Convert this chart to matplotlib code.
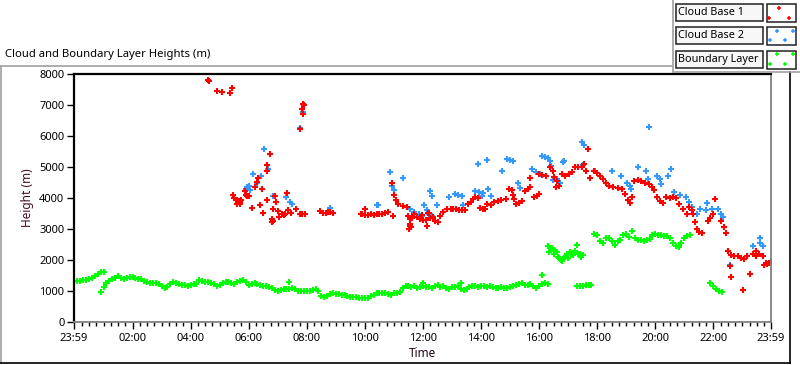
import numpy as np
import matplotlib.pyplot as plt
from matplotlib.lines import Line2D
from matplotlib.patches import Rectangle

plt.rcParams['font.family'] = ['Noto Sans', 'DejaVu Sans']

# ---- data (hours after 00:00, height in m) ----
# boundary layer: runs sampled at a fixed step
bl_start = [0.0, 0.9, 16.3, 17.3, 17.9, 21.9]
bl_step = [0.1, 0.1, 0.05, 0.1, 0.1, 0.1]
bl_run1 = [1330, 1330, 1320, 1340, 1350, 1380, 1420, 1470, 1560, 1600, 1620]
bl_run2 = [960, 1120, 1250, 1330, 1400, 1430, 1500, 1430, 1390, 1420,
           1460, 1450, 1430, 1400, 1390, 1330, 1300, 1260, 1260, 1250,
           1210, 1150, 1110, 1140, 1230, 1280, 1260, 1220, 1200, 1190,
           1160, 1180, 1210, 1230, 1340, 1310, 1290, 1280, 1260, 1210,
           1170, 1200, 1270, 1300, 1290, 1250, 1220, 1280, 1320, 1340,
           1300, 1200, 1230, 1270, 1210, 1180, 1160, 1150, 1130, 1100,
           1020, 1010, 1040, 1070, 1080, 1060, 1100, 1070, 1000, 985,
           990, 1010, 1000, 1030, 1050, 1000, 850, 820, 830, 900,
           930, 910, 890, 880, 870, 830, 820, 810, 800, 790,
           770, 760, 780, 850, 880, 930, 940, 920, 940, 900,
           880, 920, 950, 980, 1100, 1150, 1150, 1120, 1150, 1100,
           1130, 1160, 1130, 1120, 1100, 1150, 1180, 1130, 1150, 1100,
           1070, 1120, 1140, 1150, 1060, 1030, 1060, 1120, 1150, 1160,
           1130, 1150, 1170, 1140, 1150, 1120, 1100, 1110, 1120, 1090,
           1100, 1130, 1160, 1200, 1240, 1250, 1200, 1180, 1230, 1150,
           1100, 1150, 1230, 1250, 1240]
bl_run3 = [2450, 2250, 2350, 2400, 2200, 2300, 2250, 2100, 2050, 2000,
           1980, 2050, 2100, 2180, 2050, 2250, 2200, 2150, 2230, 2300,
           2480, 2200, 2180, 2100, 2150]
bl_run4 = [1150, 1160, 1150, 1180, 1200, 1180]
bl_run5 = [2850, 2800, 2600, 2550, 2720, 2700, 2600, 2500, 2600, 2650,
           2800, 2850, 2750, 2950, 2700, 2650, 2640, 2620, 2650, 2680,
           2800, 2850, 2820, 2800, 2780, 2790, 2700, 2550, 2450, 2430,
           2550, 2700, 2780, 2800]
bl_run6 = [1260, 1150, 1050, 1000, 960]
bl_runs = [bl_run1, bl_run2, bl_run3, bl_run4, bl_run5, bl_run6]
bl_extra_t = [16.1, 7.4, 12.0, 13.3]
bl_extra_h = [1530, 1280, 1250, 1260]

# cloud base 1
cb1_t = [4.60, 4.62, 4.90, 5.07, 5.35, 5.43,
         5.45, 5.50, 5.55, 5.60, 5.65, 5.70, 5.75, 5.60, 5.70,
         5.87, 5.90, 5.95, 6.00, 6.10, 6.22, 6.27, 6.33, 6.39, 6.45,
         6.50, 6.62, 6.62, 6.64, 6.73, 6.79, 6.80, 6.82, 6.85, 6.90,
         6.94, 7.02, 7.03, 7.15, 7.20, 7.25, 7.33, 7.35, 7.45, 7.63,
         7.77, 7.85, 7.94, 7.77, 7.82, 7.86, 7.88, 7.90,
         8.45, 8.55, 8.65, 8.72, 8.80, 8.90,
         9.85, 9.90, 10.0, 10.1, 10.2, 10.3, 10.4, 10.5, 10.6, 10.7,
         10.8, 10.0, 10.97, 10.92, 11.01, 11.07, 11.15, 11.30, 11.45,
         11.48, 11.55, 11.62, 11.55, 11.57, 11.53, 11.60,
         11.70, 11.80, 11.90, 11.95, 12.00, 12.10, 12.17, 12.22, 12.15,
         12.25, 12.35, 12.43, 12.50, 12.58, 12.70, 12.83,
         12.95, 13.05, 13.15, 13.25, 13.35, 13.45, 13.55, 13.65,
         13.72, 13.80, 13.88, 13.95, 14.05, 14.12, 14.22, 14.35,
         14.45, 14.58, 14.70, 14.85, 14.95, 15.05, 15.11, 15.13,
         15.20, 15.30, 15.42, 15.50, 15.60, 15.70, 15.69, 15.82,
         15.92, 16.00, 15.98, 16.10, 16.25, 16.38, 16.46, 16.52,
         16.60, 16.68, 16.58, 16.78, 16.90, 17.02, 17.14, 17.22,
         17.35, 17.48, 17.55, 17.62, 17.68, 17.75, 17.90, 18.00,
         18.10, 18.20, 18.30, 18.42, 18.55, 18.70, 18.85, 18.95,
         19.05, 19.12, 19.19, 19.27, 19.40, 19.52, 19.65, 19.78,
         19.88, 19.96, 20.05, 20.15, 20.25, 20.38, 20.50, 20.62,
         20.72, 20.82, 20.95, 21.08, 21.15, 21.25, 21.31, 21.35,
         21.42, 21.50, 21.60, 21.80, 21.90, 22.00, 22.05, 22.25,
         22.35, 22.45, 22.50, 22.60, 22.57, 22.61, 22.70, 22.85,
         22.95, 23.05, 23.15, 23.26, 23.02, 23.38, 23.48, 23.58,
         23.45, 23.70, 23.80, 23.75, 23.85, 23.92, 23.98, 22.50]
cb1_h = [7800, 7780, 7460, 7420, 7390, 7550,
         4100, 4000, 3950, 3920, 3900, 3880, 3950, 3800, 3800,
         4230, 4100, 4070, 4050, 3670, 4370, 4520, 4630, 3770, 4290,
         3510, 5060, 4880, 3930, 5410, 3310, 3210, 3250, 3640, 4070,
         3860, 3570, 3380, 3470, 3450, 3480, 4150, 3600, 3510, 3660,
         3470, 3480, 3470, 6230, 6880, 6720, 7045, 7000,
         3580, 3520, 3510, 3540, 3560, 3530,
         3480, 3470, 3460, 3460, 3470, 3460, 3470, 3480, 3500, 3530,
         3560, 3660, 3420, 4500, 4090, 3930, 3800, 3750, 3700,
         3410, 3310, 3350, 3100, 3150, 3000, 3050,
         3500, 3400, 3320, 3450, 3300, 3280, 3530, 3530, 3100,
         3360, 3380, 3250, 3240, 3420, 3550, 3660,
         3660, 3640, 3630, 3620, 3610, 3620, 3800, 3880,
         3960, 4020, 4000, 3690, 3660, 3640, 3800, 3790,
         3870, 3900, 3930, 3960, 4290, 4250, 4090, 3960,
         3800, 3850, 3910, 4230, 4280, 4340, 4660, 4020,
         4080, 4120, 4770, 4740, 4720, 5000, 4880, 4680,
         4550, 4390, 4340, 4770, 4720, 4780, 4830, 5000,
         4990, 5010, 5100, 4880, 5580, 4640, 4880, 4800,
         4700, 4600, 4500, 4390, 4350, 4320, 4290, 4120,
         3950, 3850, 4020, 4560, 4580, 4560, 4500, 4440,
         4340, 4260, 4020, 3900, 3850, 4020, 4000, 4030,
         4010, 3800, 3650, 3470, 3720, 3610, 3500, 3210,
         3000, 2900, 2880, 3250, 3350, 3470, 3960, 3250,
         3050, 2880, 2280, 2170, 1800, 1450, 2120, 2130,
         2070, 2020, 2120, 1560, 1020, 2200, 2120, 2180,
         2300, 2120, 1910, 1850, 1880, 1900, 1950, 2300]

# cloud base 2
cb2_t = [5.92, 5.95, 6.00, 6.03, 6.16, 6.27, 6.42, 6.53, 6.65, 6.85,
         7.30, 7.42, 7.48, 7.77, 7.86, 8.80, 10.41, 10.45, 10.86, 10.93,
         11.00, 11.32, 11.55, 11.70, 11.85, 11.97, 12.04, 12.14, 12.22,
         12.31, 12.24, 12.30, 12.47, 12.90, 13.10, 13.22, 13.34, 13.38,
         13.79, 13.92, 14.07, 13.88, 14.19, 14.02, 14.25, 14.33, 14.71,
         14.89, 14.98, 15.10, 15.28, 15.34, 15.75, 15.88, 16.03, 16.10,
         16.20, 16.31, 16.37, 16.40, 16.48, 16.60, 16.72, 16.81, 16.84,
         17.48, 17.55, 17.68, 17.51, 17.92, 18.50, 18.81, 19.04, 19.13,
         19.15, 19.40, 19.68, 19.75, 19.78, 20.05, 20.16, 20.18, 20.45,
         20.53, 20.65, 20.85, 21.05, 21.15, 21.28, 21.42, 21.55, 21.75,
         21.95, 21.77, 22.15, 22.25, 22.33, 22.57, 23.36, 23.60, 23.62,
         23.71]
cb2_h = [4300, 4350, 4400, 4250, 4790, 4490, 4700, 5580, 4950, 4050,
         4020, 3870, 3800, 6250, 6770, 3690, 3770, 3770, 4830, 4390,
         4250, 4630, 3640, 3550, 3500, 3420, 3770, 3600, 3500,
         3420, 4230, 4050, 3780, 4020, 4120, 4100, 4070, 3770,
         4230, 4200, 4160, 5100, 5240, 4050, 4290, 4050, 4860,
         5260, 5220, 5200, 4470, 4330, 4930, 4850, 4770, 5370,
         5330, 5280, 5200, 5040, 4580, 4600, 4500, 5170, 5180,
         5810, 5700, 5580, 5050, 4880, 4860, 4700, 4500, 4390,
         4290, 5010, 4880, 4610, 6290, 4720, 4610, 4450, 4720,
         4950, 4180, 4100, 4020, 3880, 3700, 3500, 3660, 3610,
         3630, 3850, 3660, 3500, 3390, 1850, 2440, 2700, 2560,
         2440]

x_ticks = [-1 / 60, 2, 4, 6, 8, 10, 12, 14, 16, 18, 20, 22, 24 - 1 / 60]
x_labels = ['23:59', '02:00', '04:00', '06:00', '08:00', '10:00', '12:00',
            '14:00', '16:00', '18:00', '20:00', '22:00', '23:59']
y_ticks = [0, 1000, 2000, 3000, 4000, 5000, 6000, 7000, 8000]

RED, BLUE, GREEN = '#ff0000', '#3399ff', '#00ff00'
W, H = 800, 365


def fx(x):
    return x / W


def fy(y):
    return 1 - y / H


fig = plt.figure(figsize=(W / 100, H / 100), dpi=100)
ax = fig.add_axes([fx(74), fy(322), fx(771 - 74), (322 - 74) / H])

mk = dict(ls='none', marker='+', ms=3.8, mew=1.5)
for start, step, vals in zip(bl_start, bl_step, bl_runs):
    t = start + step * np.arange(len(vals))
    ax.plot(t, vals, color=GREEN, **mk)
ax.plot(bl_extra_t, bl_extra_h, color=GREEN, **mk)
ax.plot(cb2_t, cb2_h, color=BLUE, **mk)
ax.plot(cb1_t, cb1_h, color=RED, **mk)

ax.set_xlim(-1 / 60, 24 - 1 / 60)
ax.set_ylim(0, 8000)
ax.set_xticks(x_ticks)
ax.set_xticklabels(x_labels)
ax.set_xticks([m / 4 for m in range(1, 96) if m % 8 != 0], minor=True)
ax.set_yticks(y_ticks)
ax.tick_params(axis='both', labelsize=8, colors='black', width=1)
ax.tick_params(axis='x', which='major', length=5, pad=3)
ax.tick_params(axis='x', which='minor', length=3, width=1)
ax.tick_params(axis='y', length=5, pad=2)

for side in ['top', 'left']:
    ax.spines[side].set_color('black')
    ax.spines[side].set_linewidth(1.6)
for side in ['bottom', 'right']:
    ax.spines[side].set_color('#808080')
    ax.spines[side].set_linewidth(1.3)

ax.set_xlabel('Time', fontsize=8.5, color='#200818', labelpad=2)
ax.set_ylabel('Height (m)', fontsize=8.5, color='#401028', labelpad=4)

fig.text(fx(5), fy(55), 'Cloud and Boundary Layer Heights (m)', fontsize=8.1,
         va='center', ha='left')

# outer panel frame
gray = '#a0a0a0'
fig.add_artist(Line2D([fx(0), fx(672)], [fy(66), fy(66)], color=gray, lw=1.2))
fig.add_artist(Line2D([fx(1), fx(1)], [fy(66), fy(363)], color=gray, lw=1.2))
fig.add_artist(Line2D([fx(0), fx(790)], [fy(363), fy(363)], color='black', lw=1.2))
fig.add_artist(Line2D([fx(790), fx(790)], [fy(72), fy(363)], color='black', lw=1.2))
# legend panel
fig.add_artist(Line2D([fx(673), fx(673)], [fy(0), fy(72)], color=gray, lw=1.2))
fig.add_artist(Line2D([fx(673), fx(800)], [fy(72), fy(72)], color=gray, lw=1.2))

legend_names = ['Cloud Base 1', 'Cloud Base 2', 'Boundary Layer']
legend_cols = [RED, BLUE, GREEN]
for i, (name, col) in enumerate(zip(legend_names, legend_cols)):
    top = 4 + i * 23.3
    fig.add_artist(Rectangle((fx(676), fy(top + 17)), fx(87), 17 / H,
                             facecolor='#f7f7f7', edgecolor='#202020', lw=1.1))
    fig.text(fx(678), fy(top + 8.5), name, fontsize=7.8, va='center', ha='left')
    fig.add_artist(Rectangle((fx(767), fy(top + 18)), fx(29), 18 / H,
                             facecolor='white', edgecolor='#202020', lw=1.1))
    if i == 0:
        pts = [(779, top + 3.5), (769, top + 13.5), (789, top + 13.5)]
    else:
        pts = [(777, top + 3.5), (793, top + 3.5), (770, top + 13), (785, top + 13)]
    for px, py in pts:
        fig.add_artist(Line2D([fx(px)], [fy(py)], color=col, marker='+',
                              ms=3, mew=1.1, ls='none'))

fig.savefig('out.png', dpi=100)
